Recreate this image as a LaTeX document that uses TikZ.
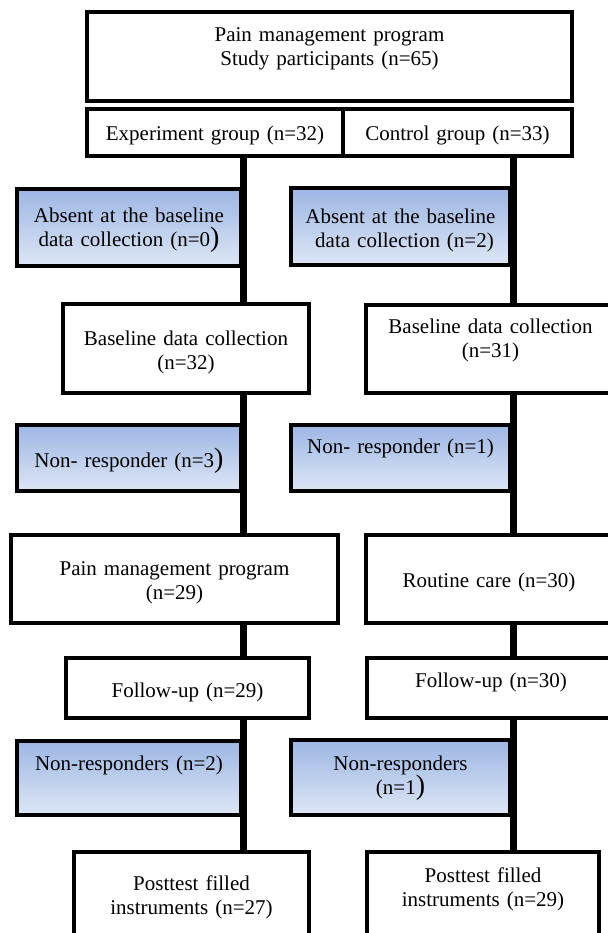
\documentclass[tikz,border=0pt]{standalone}
\usepackage{fontspec}
\setmainfont{Liberation Serif}
\usepackage{xcolor}
\usepackage{tikz}
\definecolor{losstop}{HTML}{9DB6E4}
\definecolor{lossbottom}{HTML}{DDE6F5}
\newcommand{\bigparen}{{\fontsize{14}{12}\selectfont)}}
\tikzstyle{stage} = [rectangle, draw=black, line width=2pt, fill=white, inner sep=2pt,
    text centered, font=\fontsize{10.5}{12}\selectfont]
\tikzstyle{loss} = [stage, top color=losstop, bottom color=lossbottom]
\tikzstyle{trunk} = [line width=3.5pt, black]

\begin{document}
\begin{tikzpicture}[x=0.5pt, y=-0.5pt]
\useasboundingbox (0,0) rectangle (608,933);
\clip (0,0) rectangle (608,933);
\node[stage, minimum width=242.5pt, minimum height=44.5pt, text width=236pt, text height=0pt, text depth=15.5pt] (study) at (329.5,56.5) {Pain management program\\Study participants (n=65)};
\node[stage, minimum width=128pt, minimum height=23.5pt, text width=122pt, text height=7.5pt, text depth=0pt] (expgrp) at (215,132.5) {Experiment group (n=32)};
\node[stage, minimum width=114.5pt, minimum height=23.5pt, text width=109pt, text height=7.5pt, text depth=0pt] (ctrlgrp) at (457.5,132.5) {Control group (n=33)};
\node[loss, minimum width=112pt, minimum height=38.5pt, text width=106pt, text height=0pt, text depth=5.5pt] (absentE) at (129,227.5) {Absent at the baseline\\data collection (n=0\bigparen};
\node[loss, minimum width=109.5pt, minimum height=38.5pt, text width=104pt, text height=0pt, text depth=3.5pt] (absentC) at (400.5,226.5) {Absent at the baseline\\\hspace*{4pt}data collection (n=2)};
\node[stage, minimum width=123pt, minimum height=44.5pt, text width=117pt, text height=0pt, text depth=3.5pt] (baseE) at (186,348.5) {Baseline data collection\\(n=32)};
\node[stage, minimum width=124.5pt, minimum height=44pt, text width=118pt, text height=0pt, text depth=16pt] (baseC) at (490.5,349) {Baseline data collection\\(n=31)};
\node[loss, minimum width=112pt, minimum height=33pt, text width=106pt, text height=9pt, text depth=0pt] (nonrespE) at (129,458) {Non- responder (n=3\bigparen};
\node[loss, minimum width=109.5pt, minimum height=33pt, text width=104pt, text height=0pt, text depth=5pt] (nonrespC) at (400.5,458) {Non- responder (n=1)};
\node[stage, minimum width=163.5pt, minimum height=44pt, text width=157pt, text height=0pt, text depth=4pt] (programE) at (174.5,579) {Pain management program\\(n=29)};
\node[stage, minimum width=123pt, minimum height=44pt, text width=117pt, text height=8pt, text depth=0pt] (routineC) at (489,579) {Routine care (n=30)};
\node[stage, minimum width=121.5pt, minimum height=30pt, text width=115pt, text height=9pt, text depth=0pt] (followE) at (187.5,688) {Follow-up (n=29)};
\node[stage, minimum width=124pt, minimum height=30pt, text width=118pt, text height=0pt, text depth=1pt] (followC) at (491,688) {Follow-up (n=30)};
\node[loss, minimum width=112pt, minimum height=37pt, text width=106pt, text height=0pt, text depth=8pt] (dropE) at (129,778) {Non-responders (n=2)};
\node[loss, minimum width=109.5pt, minimum height=37.5pt, text width=104pt, text height=0pt, text depth=7.5pt] (dropC) at (400.5,777.5) {Non-responders\\(n=1\bigparen};
\node[stage, minimum width=117.5pt, minimum height=54pt, text width=111pt, text height=0pt, text depth=16pt] (posttestE) at (191.5,906) {Posttest filled\\instruments (n=27)};
\node[stage, minimum width=116pt, minimum height=54pt, text width=110pt, text height=0pt, text depth=24pt] (posttestC) at (483,906) {Posttest filled\\instruments (n=29)};
\coordinate (eTrunk) at (243,0);
\coordinate (cTrunk) at (513.5,0);
\draw[trunk] (expgrp.south -| eTrunk) -- (baseE.north -| eTrunk);
\draw[trunk] (baseE.south -| eTrunk) -- (programE.north -| eTrunk);
\draw[trunk] (programE.south -| eTrunk) -- (followE.north -| eTrunk);
\draw[trunk] (followE.south -| eTrunk) -- (posttestE.north -| eTrunk);
\draw[trunk] (ctrlgrp.south -| cTrunk) -- (baseC.north -| cTrunk);
\draw[trunk] (baseC.south -| cTrunk) -- (routineC.north -| cTrunk);
\draw[trunk] (routineC.south -| cTrunk) -- (followC.north -| cTrunk);
\draw[trunk] (followC.south -| cTrunk) -- (posttestC.north -| cTrunk);
\end{tikzpicture}
\end{document}
